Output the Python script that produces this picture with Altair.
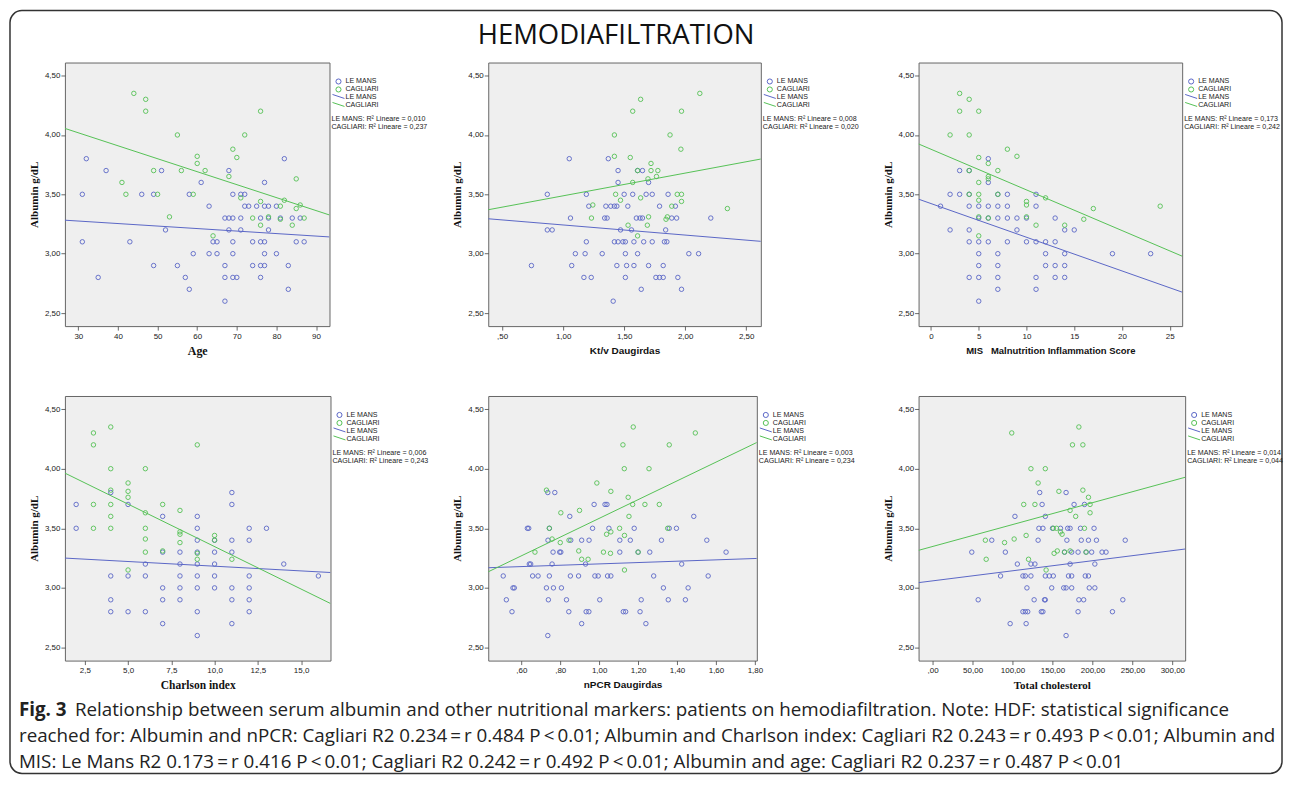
import altair as alt
import pandas as pd

BLUE = "#5a66c6"
GREEN = "#55c155"
GROUPS = ["LE MANS", "CAGLIARI"]
Y_DOMAIN = [2.39, 4.61]
Y_TICKS = [2.5, 3.0, 3.5, 4.0, 4.5]

# ---------------- Panel 1: Age ----------------
AGE_LM_X = [32, 31, 31, 37, 35, 43, 46, 49, 51, 52, 49, 55, 57, 58, 58, 59, 61, 63, 63, 64,
            65, 65, 67, 67, 67, 67, 68, 68, 68, 69, 69, 69, 69, 69, 70, 71, 72, 71, 71, 72,
            73, 74, 74, 75, 76, 76, 76, 76, 77, 77, 77, 77, 77, 78, 78, 78, 80, 80, 81, 82,
            83, 83, 84, 85, 86, 87]
AGE_LM_Y = [3.8, 3.5, 3.1, 3.7, 2.8, 3.1, 3.5, 3.5, 3.7, 3.2, 2.9, 2.9, 2.8, 2.7, 3.5, 3.0, 3.6, 3.4, 3.0, 3.1,
            3.1, 3.0, 3.3, 2.9, 2.8, 2.6, 3.7, 3.3, 3.2, 3.3, 3.5, 3.1, 3.0, 2.8, 2.8, 3.5, 3.5, 3.3, 3.2, 3.4,
            3.4, 3.1, 2.9, 3.4, 3.3, 3.1, 2.9, 2.8, 3.6, 3.4, 3.1, 3.0, 2.9, 3.4, 3.3, 3.2, 3.4, 3.0, 3.3, 3.8,
            2.9, 2.7, 3.3, 3.1, 3.3, 3.1]
AGE_CA_X = [44, 47, 47, 55, 76, 72, 69, 60, 70, 60, 62, 56, 49, 41, 68, 42, 50, 59, 71, 53,
            64, 76, 74, 76, 78, 81, 82, 85, 86, 85, 81, 84, 87]
AGE_CA_Y = [4.35, 4.3, 4.2, 4.0, 4.2, 4.0, 3.88, 3.82, 3.81, 3.76, 3.7, 3.7, 3.7, 3.6, 3.65, 3.5, 3.5, 3.5, 3.47, 3.31,
            3.15, 3.44, 3.3, 3.24, 3.31, 3.4, 3.45, 3.63, 3.41, 3.38, 3.29, 3.24, 3.3]
AGE_FIT_X = [26.6, 93.4]
AGE_FIT_LM = [3.282, 3.141]
AGE_FIT_CA = [4.055, 3.326]

# ---------------- Panel 2: Kt/V ----------------
KTV_LM_ROWS = {
    3.8: [1.05, 1.37],
    3.7: [1.45, 1.61, 1.65],
    3.6: [1.45, 1.70],
    3.5: [0.87, 1.19, 1.50, 1.57, 1.68, 1.73, 1.86],
    3.4: [1.21, 1.35, 1.39, 1.42, 1.44, 1.53, 1.79, 1.92],
    3.3: [1.06, 1.34, 1.36, 1.60, 1.63, 1.65, 1.89, 1.93, 2.21],
    3.2: [0.87, 0.91, 1.47, 1.56, 1.84],
    3.1: [1.19, 1.42, 1.45, 1.49, 1.51, 1.58, 1.66, 1.73, 1.83, 1.85],
    3.0: [1.10, 1.18, 1.32, 1.51, 1.61, 2.03, 2.11],
    2.9: [0.74, 1.07, 1.44, 1.52, 1.58, 1.70, 1.82],
    2.8: [1.17, 1.23, 1.51, 1.76, 1.79, 1.82, 1.94],
    2.7: [1.64, 1.97],
    2.6: [1.41],
}
KTV_CA_X = [2.12, 1.635, 1.57, 1.97, 1.42, 1.876, 1.965, 1.42, 1.55, 1.72, 1.61, 1.72, 1.776, 1.695, 1.765, 1.57,
            1.43, 1.935, 1.97, 1.47, 1.635, 1.97, 1.243, 1.89, 2.346, 1.232, 1.70, 1.854, 1.843, 1.532, 1.69, 1.61]
KTV_CA_Y = [4.35, 4.3, 4.2, 4.2, 4.0, 4.0, 3.88, 3.82, 3.81, 3.76, 3.7, 3.7, 3.7, 3.63, 3.65, 3.6,
            3.5, 3.5, 3.5, 3.45, 3.47, 3.44, 3.41, 3.4, 3.38, 3.3, 3.31, 3.31, 3.29, 3.24, 3.24, 3.15]
KTV_FIT_X = [0.386, 2.62]
KTV_FIT_LM = [3.294, 3.104]
KTV_FIT_CA = [3.370, 3.797]

# ---------------- Panel 3: MIS ----------------
MIS_LM_ROWS = {
    3.8: [6],
    3.7: [3, 4],
    3.6: [6],
    3.5: [2, 3, 4, 7, 8, 11],
    3.4: [1, 4, 5, 6, 7, 8, 11],
    3.3: [5, 6, 7, 8, 9, 10, 13],
    3.2: [2, 4, 9, 14, 15],
    3.1: [4, 5, 6, 8, 10, 11, 12, 13],
    3.0: [5, 7, 12, 14, 19, 23],
    2.9: [5, 7, 12, 13, 14],
    2.8: [4, 5, 7, 11, 13, 14],
    2.7: [7, 11],
    2.6: [5],
}
MIS_CA_X = [3, 4, 3, 5, 2, 4, 8, 5, 9, 6, 4, 7, 6, 6, 5, 5, 4, 7, 5, 10, 10, 12, 17, 24, 5, 6, 10, 16, 11, 14, 5]
MIS_CA_Y = [4.35, 4.3, 4.2, 4.2, 4.0, 4.0, 3.88, 3.81, 3.82, 3.76, 3.7, 3.7, 3.65, 3.63, 3.6, 3.5, 3.5, 3.5,
            3.45, 3.44, 3.41, 3.47, 3.38, 3.4, 3.31, 3.3, 3.31, 3.29, 3.24, 3.24, 3.15]
MIS_FIT_X = [-1.3, 26.3]
MIS_FIT_LM = [3.459, 2.676]
MIS_FIT_CA = [3.924, 2.979]

# ---------------- Panel 4: Charlson index ----------------
CH_LM_ROWS = {
    3.8: [4, 11],
    3.7: [2, 5, 11],
    3.6: [7, 9],
    3.5: [2, 9, 12, 13],
    3.4: [9, 10, 11, 12],
    3.3: [7, 8, 9, 10, 11],
    3.2: [6, 8, 9, 10, 14],
    3.1: [4, 5, 6, 8, 9, 10, 12, 16],
    3.0: [7, 8, 9, 10, 11, 12],
    2.9: [4, 7, 8, 11, 12],
    2.8: [4, 5, 6, 9, 12],
    2.7: [7, 11],
    2.6: [9],
}
CH_CA_X = [3, 3, 4, 9, 4, 6, 5, 4, 5, 5, 3, 4, 7, 8, 6, 4, 3, 4, 6, 8, 8, 10, 10, 6, 8, 6, 7, 9, 9, 11, 5]
CH_CA_Y = [4.3, 4.2, 4.35, 4.2, 4.0, 4.0, 3.88, 3.82, 3.81, 3.76, 3.7, 3.7, 3.7, 3.65, 3.63, 3.6, 3.5, 3.5,
           3.5, 3.47, 3.45, 3.44, 3.4, 3.41, 3.38, 3.3, 3.31, 3.29, 3.24, 3.24, 3.15]
CH_FIT_X = [1.35, 16.7]
CH_FIT_LM = [3.250, 3.129]
CH_FIT_CA = [3.963, 2.869]

# ---------------- Panel 5: nPCR ----------------
NPCR_LM_ROWS = {
    3.8: [0.736, 0.772],
    3.7: [0.974, 1.03, 1.04],
    3.6: [0.849, 1.486],
    3.5: [0.631, 0.638, 0.744, 0.966, 1.05, 1.18, 1.36, 1.397],
    3.4: [0.737, 0.854, 0.91, 0.948, 1.106, 1.16, 1.32, 1.553],
    3.3: [0.763, 0.797, 0.803, 1.106, 1.20, 1.26, 1.652],
    3.2: [0.641, 0.648, 0.758, 0.93, 1.424],
    3.1: [0.507, 0.658, 0.686, 0.744, 0.852, 0.894, 0.978, 0.995, 1.043, 1.06, 1.28, 1.56],
    3.0: [0.557, 0.564, 0.729, 0.765, 0.806, 1.33, 1.457],
    2.9: [0.523, 0.739, 0.832, 1.003, 1.216, 1.355, 1.443],
    2.8: [0.552, 0.844, 0.933, 0.947, 1.124, 1.136, 1.21],
    2.7: [0.91, 1.24],
    2.6: [0.736],
}
NPCR_CA_X = [1.175, 1.494, 1.122, 1.36, 1.129, 1.256, 0.988, 0.729, 1.06, 1.149, 1.172, 1.235, 1.309, 0.899,
             0.803, 1.153, 0.744, 1.105, 1.352, 1.06, 1.13, 1.038, 0.758, 0.845, 0.80, 0.67, 0.895, 1.022,
             1.20, 1.058, 0.91, 0.943, 1.13]
NPCR_CA_Y = [4.35, 4.3, 4.2, 4.2, 4.0, 4.0, 3.88, 3.82, 3.81, 3.76, 3.7, 3.7, 3.7, 3.65, 3.63, 3.6, 3.5, 3.5,
             3.5, 3.47, 3.44, 3.45, 3.41, 3.4, 3.38, 3.3, 3.31, 3.3, 3.3, 3.29, 3.24, 3.24, 3.15]
NPCR_FIT_X = [0.43, 1.81]
NPCR_FIT_LM = [3.169, 3.247]
NPCR_FIT_CA = [3.135, 4.22]

# ---------------- Panel 6: Total cholesterol ----------------
CHOL_LM_ROWS = {
    3.8: [134, 167],
    3.7: [137, 177, 190],
    3.6: [103, 141],
    3.5: [133, 138, 150, 160, 169, 172, 185, 202],
    3.4: [74, 132, 168, 186, 195, 205, 241],
    3.3: [49, 91, 165, 174, 182, 192, 199, 212, 217],
    3.2: [106, 123, 128, 172, 203],
    3.1: [85, 113, 116, 123, 141, 146, 151, 170, 174, 191, 195],
    3.0: [118, 149, 164, 167, 174, 196, 203],
    2.9: [57, 127, 140, 141, 183, 189, 238],
    2.8: [113, 116, 119, 136, 138, 182, 225],
    2.7: [97, 117],
    2.6: [167],
}
CHOL_CA_X = [183, 99, 175, 188, 123, 141, 132, 158, 188, 195, 114, 128, 197, 172, 197, 179, 155, 151, 190, 160,
             162, 117, 102, 66, 90, 156, 172, 165, 192, 152, 120, 67, 142]
CHOL_CA_Y = [4.35, 4.3, 4.2, 4.2, 4.0, 4.0, 3.88, 3.81, 3.82, 3.76, 3.7, 3.7, 3.7, 3.65, 3.63, 3.6, 3.5, 3.5,
             3.5, 3.47, 3.45, 3.44, 3.41, 3.4, 3.38, 3.31, 3.31, 3.3, 3.3, 3.29, 3.24, 3.24, 3.15]
CHOL_FIT_X = [-17.6, 316.0]
CHOL_FIT_LM = [3.044, 3.326]
CHOL_FIT_CA = [3.315, 3.928]

TS = "\u2009"  # thin space, as used around = and < in the caption
TITLE = "HEMODIAFILTRATION"
CAPTION_BOLD = "Fig. 3"
CAPTION_1 = ("Relationship between serum albumin and other nutritional markers: patients on hemodiafiltration. "
             "Note: HDF: statistical significance")
CAPTION_2 = (f"reached for: Albumin and nPCR: Cagliari R2 0.234{TS}={TS}r 0.484 P{TS}<{TS}0.01; Albumin and "
             f"Charlson index: Cagliari R2 0.243{TS}={TS}r 0.493 P{TS}<{TS}0.01; Albumin and")
CAPTION_3 = (f"MIS: Le Mans R2 0.173{TS}={TS}r 0.416 P{TS}<{TS}0.01; Cagliari R2 0.242{TS}={TS}r 0.492 "
             f"P{TS}<{TS}0.01; Albumin and age: Cagliari R2 0.237{TS}={TS}r 0.487 P{TS}<{TS}0.01")

NBSP = "\u00a0"
COMMA2 = "replace(format(datum.value, '.2f'), '.', ',')"
LEAD2 = ("datum.value < 1 ? substring(replace(format(datum.value, '.2f'), '.', ','), 1) : "
         "replace(format(datum.value, '.2f'), '.', ',')")
ONE = pd.DataFrame({"k": [0]})
CAP_FONT = "Open Sans"
CAP_SIZE = 18.8
LEG_SIZE = 7.1


def rows_xy(rows):
    xs, ys = [], []
    for yv, xl in rows.items():
        for xv in xl:
            xs.append(xv)
            ys.append(yv)
    return xs, ys


def txt(s, x, y, size=LEG_SIZE, font="Liberation Sans", align="left", weight="normal", color="#222",
        baseline="middle"):
    return alt.Chart(ONE).mark_text(text=s, align=align, baseline=baseline, font=font, fontSize=size,
                                    fontWeight=weight, color=color).encode(x=alt.value(x), y=alt.value(y))


def legend_layers(w, r2_lm, r2_ca):
    layers = []
    for i, (name, col) in enumerate([("LE MANS", BLUE), ("CAGLIARI", GREEN)]):
        yy = 19 + 8 * i
        layers.append(alt.Chart(ONE).mark_point(shape="circle", filled=False, size=26, color=col,
                                                strokeWidth=1, opacity=1)
                      .encode(x=alt.value(w + 9), y=alt.value(yy)))
        layers.append(txt(name, w + 16, yy))
    for i, (name, col) in enumerate([("LE MANS", BLUE), ("CAGLIARI", GREEN)]):
        yy = 35 + 8 * i
        layers.append(alt.Chart(ONE).mark_rule(color=col, strokeWidth=1)
                      .encode(x=alt.value(w + 3), x2=alt.value(w + 15), y=alt.value(yy - 3), y2=alt.value(yy + 1)))
        layers.append(txt(name, w + 16, yy))
    layers.append(txt("LE MANS: R² Lineare = " + r2_lm, w + 2, 57))
    layers.append(txt("CAGLIARI: R² Lineare = " + r2_ca, w + 2, 65))
    return layers


def panel(lm_x, lm_y, ca_x, ca_y, fit_x, fit_lm, fit_ca, x_domain, x_ticks, x_label_expr,
          x_title, x_title_font, x_title_size, w, h, r2_lm, r2_ca, extra=None):
    pts = pd.DataFrame({"x": list(lm_x) + list(ca_x), "y": list(lm_y) + list(ca_y),
                        "g": ["LE MANS"] * len(lm_x) + ["CAGLIARI"] * len(ca_x)})
    fit = pd.DataFrame({"x": list(fit_x) + list(fit_x), "y": list(fit_lm) + list(fit_ca),
                        "g": ["LE MANS"] * 2 + ["CAGLIARI"] * 2})
    xenc = alt.X("x:Q", scale=alt.Scale(domain=x_domain, nice=False, zero=False),
                 axis=alt.Axis(values=x_ticks, labelExpr=x_label_expr, title=x_title,
                               titleFont=x_title_font, titleFontSize=x_title_size, titlePadding=5,
                               labelPadding=2))
    yenc = alt.Y("y:Q", scale=alt.Scale(domain=Y_DOMAIN, nice=False, zero=False),
                 axis=alt.Axis(values=Y_TICKS, labelExpr=COMMA2, title="Albumin g/dL",
                               titleFont="Liberation Serif", titleFontSize=11, titlePadding=5,
                               labelPadding=1))
    color = alt.Color("g:N", scale=alt.Scale(domain=GROUPS, range=[BLUE, GREEN]), legend=None)
    points = alt.Chart(pts).mark_point(shape="circle", filled=False, size=20, strokeWidth=0.9,
                                       opacity=1).encode(xenc, yenc, color)
    lines = alt.Chart(fit).mark_line(strokeWidth=1, clip=True).encode(x="x:Q", y="y:Q", color=color)
    layers = [points, lines] + legend_layers(w, r2_lm, r2_ca) + (extra or [])
    return alt.layer(*layers).properties(width=w, height=h)


# decorations attached to panel 1 (relative to its plot origin)
frame = (alt.Chart(ONE).mark_rect(fillOpacity=0, stroke="#333", strokeWidth=1.5, cornerRadius=12)
         .encode(x=alt.value(-55), x2=alt.value(1219), y=alt.value(-52), y2=alt.value(712)))
title = txt(TITLE, 552, -19, size=27.5, font="Open Sans", align="center", color="#111", baseline="alphabetic")
cap = [
    txt(CAPTION_BOLD, -46, 649, size=CAP_SIZE, font=CAP_FONT, weight="bold", color="#222"),
    txt(CAPTION_1, 10, 649, size=CAP_SIZE, font=CAP_FONT, color="#222"),
    txt(CAPTION_2, -46, 675, size=CAP_SIZE, font=CAP_FONT, color="#222"),
    txt(CAPTION_3, -46, 701, size=CAP_SIZE, font=CAP_FONT, color="#222"),
]

ktv_lm_x, ktv_lm_y = rows_xy(KTV_LM_ROWS)
mis_lm_x, mis_lm_y = rows_xy(MIS_LM_ROWS)
ch_lm_x, ch_lm_y = rows_xy(CH_LM_ROWS)
npcr_lm_x, npcr_lm_y = rows_xy(NPCR_LM_ROWS)
chol_lm_x, chol_lm_y = rows_xy(CHOL_LM_ROWS)

p1 = panel(AGE_LM_X, AGE_LM_Y, AGE_CA_X, AGE_CA_Y, AGE_FIT_X, AGE_FIT_LM, AGE_FIT_CA,
           [26.6, 93.4], [30, 40, 50, 60, 70, 80, 90], "format(datum.value, 'd')",
           "Age", "Liberation Serif", 12, 265, 264, "0,010", "0,237", extra=[frame, title] + cap)
p2 = panel(ktv_lm_x, ktv_lm_y, KTV_CA_X, KTV_CA_Y, KTV_FIT_X, KTV_FIT_LM, KTV_FIT_CA,
           [0.386, 2.62], [0.5, 1.0, 1.5, 2.0, 2.5], LEAD2,
           "Kt/v Daugirdas", "Liberation Sans", 10, 273, 264, "0,008", "0,020")
p3 = panel(mis_lm_x, mis_lm_y, MIS_CA_X, MIS_CA_Y, MIS_FIT_X, MIS_FIT_LM, MIS_FIT_CA,
           [-1.3, 26.3], [0, 5, 10, 15, 20, 25], "format(datum.value, 'd')",
           "MIS" + NBSP * 3 + "Malnutrition Inflammation Score", "Liberation Sans", 9.5, 264, 264,
           "0,173", "0,242")
p4 = panel(ch_lm_x, ch_lm_y, CH_CA_X, CH_CA_Y, CH_FIT_X, CH_FIT_LM, CH_FIT_CA,
           [1.35, 16.7], [2.5, 5.0, 7.5, 10.0, 12.5, 15.0], "replace(format(datum.value, '.1f'), '.', ',')",
           "Charlson index", "Liberation Serif", 11.5, 266, 265, "0,006", "0,243")
p5 = panel(npcr_lm_x, npcr_lm_y, NPCR_CA_X, NPCR_CA_Y, NPCR_FIT_X, NPCR_FIT_LM, NPCR_FIT_CA,
           [0.43, 1.81], [0.6, 0.8, 1.0, 1.2, 1.4, 1.6, 1.8], LEAD2,
           "nPCR Daugirdas", "Liberation Sans", 10, 269, 265, "0,003", "0,234")
p6 = panel(chol_lm_x, chol_lm_y, CHOL_CA_X, CHOL_CA_Y, CHOL_FIT_X, CHOL_FIT_LM, CHOL_FIT_CA,
           [-17.6, 316.0], [0, 50, 100, 150, 200, 250, 300], LEAD2,
           "Total cholesterol", "Liberation Serif", 11, 267, 265, "0,014", "0,044")

chart = (alt.concat(p1, p2, p3, p4, p5, p6, columns=3, spacing={"row": 70, "column": 158},
                    bounds="flush", align="none")
         .properties(padding=0, background="white")
         .configure_view(fill="#efefef", stroke="#666", strokeWidth=1)
         .configure_axis(labelFont="Liberation Sans", labelFontSize=8, labelColor="#222",
                         tickColor="#444", tickSize=4, tickWidth=0.8, domain=False, grid=False,
                         titleFontWeight="bold", titleColor="#111"))

chart.save("out.html", embed_options={"renderer": "svg", "actions": False})
